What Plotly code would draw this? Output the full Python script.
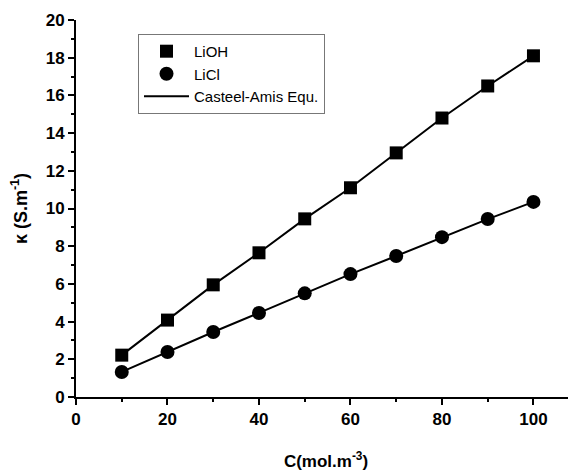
import plotly.graph_objects as go

conc = [10, 20, 30, 40, 50, 60, 70, 80, 90, 100]
lioh = [2.22, 4.08, 5.95, 7.65, 9.45, 11.1, 12.95, 14.8, 16.5, 18.1]
licl = [1.33, 2.39, 3.45, 4.46, 5.5, 6.52, 7.48, 8.48, 9.44, 10.35]

FONT = "Arial, Liberation Sans, sans-serif"

fig = go.Figure()
# fit lines (Casteel-Amis)
fig.add_trace(go.Scatter(x=conc, y=lioh, mode="lines", line=dict(color="black", width=2),
                         name="Casteel-Amis Equ.", legendrank=3))
fig.add_trace(go.Scatter(x=conc, y=licl, mode="lines", line=dict(color="black", width=2),
                         showlegend=False))
fig.add_trace(go.Scatter(x=conc, y=lioh, mode="markers",
                         marker=dict(symbol="square", size=13, color="black"),
                         name="LiOH", legendrank=1))
fig.add_trace(go.Scatter(x=conc, y=licl, mode="markers",
                         marker=dict(symbol="circle", size=14, color="black"),
                         name="LiCl", legendrank=2))

axis_common = dict(showline=True, linecolor="black", linewidth=2, ticks="outside",
                   ticklen=6, tickwidth=2, tickcolor="black", showgrid=False, zeroline=False,
                   tickfont=dict(family=FONT, size=17, color="black", weight="bold"),
                   mirror=False, automargin=False)

fig.update_xaxes(range=[0, 109.3], tickvals=[0, 20, 40, 60, 80, 100],
                 minor=dict(ticks="outside", ticklen=3, tickwidth=1.5, tickcolor="black",
                            tickvals=[10, 30, 50, 70, 90]),
                 title=dict(text="C(mol.m<sup>-3</sup>)", standoff=27,
                            font=dict(family=FONT, size=17, color="black", weight="bold")),
                 **axis_common)
fig.update_yaxes(range=[0, 20], tickvals=[0, 2, 4, 6, 8, 10, 12, 14, 16, 18, 20],
                 minor=dict(ticks="outside", ticklen=3, tickwidth=1.5, tickcolor="black",
                            tickvals=[1, 3, 5, 7, 9, 11, 13, 15, 17, 19]),
                 title=dict(text="κ (S.m<sup>-1</sup>)", standoff=14,
                            font=dict(family=FONT, size=18, color="black", weight="bold")),
                 **axis_common)

# page body has an 8px margin, so the figure is offset by 8px
fig.update_layout(
    width=568, height=463,
    margin=dict(l=68, r=0, t=12, b=74),
    plot_bgcolor="white", paper_bgcolor="white",
    legend=dict(x=0.124, y=0.963, xanchor="left", yanchor="top",
                bordercolor="#777777", borderwidth=1, bgcolor="white",
                font=dict(family=FONT, size=15, color="black"),
                tracegroupgap=0, itemwidth=45),
)

fig.write_html("out.html")
